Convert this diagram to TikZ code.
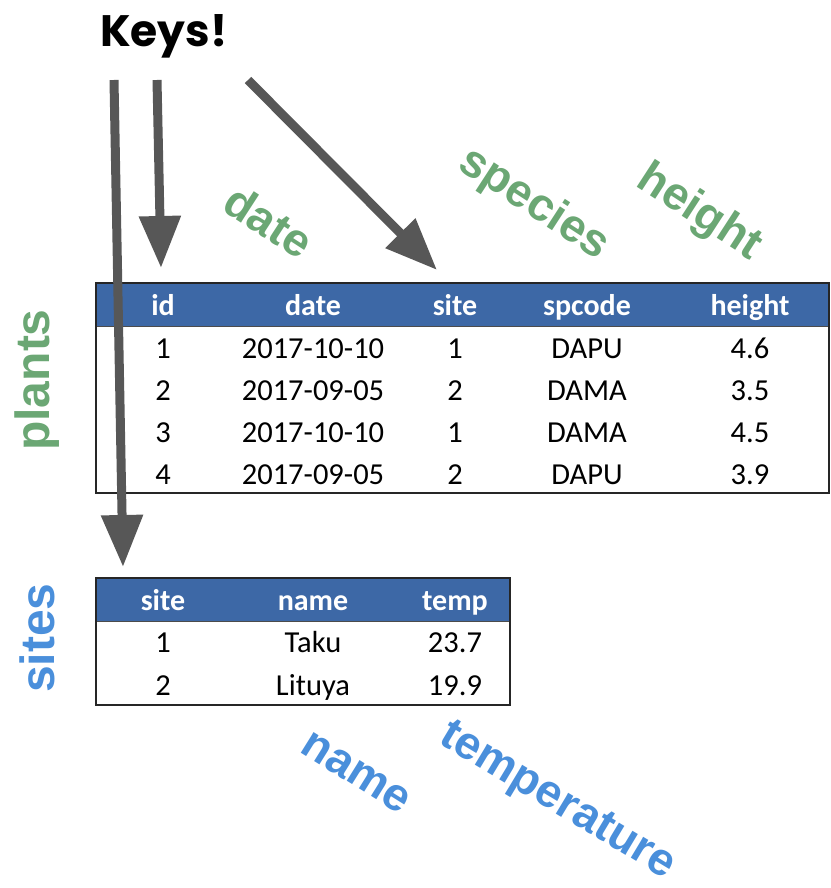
\documentclass[tikz,border=0pt]{standalone}
\usepackage{fontspec}
\setmainfont{Carlito}
\newfontfamily\keysfont{Poppins}
\newfontfamily\labfont{Liberation Sans}
\usetikzlibrary{arrows.meta}
\definecolor{hdrblue}{HTML}{3D68A6}
\definecolor{plantgreen}{HTML}{6BA774}
\definecolor{siteblue}{HTML}{4A8FDB}
\definecolor{arrgray}{HTML}{575757}
\begin{document}
\begin{tikzpicture}[x=1pt,y=-1pt,
  cell/.style={font=\fontsize{30.5}{30}\selectfont, inner sep=0pt, anchor=base},
  hcell/.style={cell, font=\fontsize{30}{30}\selectfont\bfseries, text=white},
  tablebox/.style={draw=black!85, line width=1.3pt},
  hdrbox/.style={fill=hdrblue, draw=black!70, line width=1pt},
  keyarrow/.style={draw=arrgray, line width=9pt, -{Triangle[length=52pt,width=40pt]}},
  lab/.style={font=\fontsize{46}{46}\selectfont\labfont\bfseries, inner sep=0pt},
  tname/.style={lab, font=\fontsize{48}{48}\selectfont\labfont\bfseries, rotate=90}
]
\useasboundingbox (0,0) rectangle (830,888);

% title
\node[anchor=base west, inner sep=0pt, font=\fontsize{44}{44}\selectfont\keysfont\bfseries] (keys) at (100,47) {Keys!};

% rotated labels
\node[lab, text=plantgreen, rotate=-33] (ldate) at (269,221) {date};
\node[lab, text=plantgreen, rotate=-33] (lspecies) at (534,204) {species};
\node[lab, text=plantgreen, rotate=-33] (lheight) at (699,213) {height};
\node[tname, text=plantgreen] (lplants) at (37,380) {plants};
\node[tname, text=siteblue] (lsites) at (37,638) {sites};
\node[lab, text=siteblue, rotate=-32] (lname) at (356,773) {name};
\node[lab, text=siteblue, rotate=-31] (ltemp) at (557,802) {temperature};

% plants table
\path[hdrbox] (96,283) rectangle (829,326);
\draw[tablebox] (96,283) rectangle (829,493);
\foreach \x/\t [count=\i] in {163/id,313/date,455/site,587/spcode,750/height}
  \node[hcell] (ph\i) at (\x,315) {\t};
\foreach \y/\a/\b/\c/\d/\e [count=\r] in {
  358/1/2017-10-10/1/DAPU/4.6,
  400/2/2017-09-05/2/DAMA/3.5,
  442/3/2017-10-10/1/DAMA/4.5,
  484/4/2017-09-05/2/DAPU/3.9}{
  \node[cell] (p\r a) at (163,\y) {\a};
  \node[cell] (p\r b) at (313,\y) {\b};
  \node[cell] (p\r c) at (455,\y) {\c};
  \node[cell] (p\r d) at (587,\y) {\d};
  \node[cell] (p\r e) at (750,\y) {\e};
}

% sites table
\path[hdrbox] (96,578) rectangle (510,621);
\draw[tablebox] (96,578) rectangle (510,705);
\foreach \x/\t [count=\i] in {163/site,313/name,455/temp}
  \node[hcell] (sh\i) at (\x,610) {\t};
\foreach \y/\a/\b/\c [count=\r] in {652/1/Taku/23.7, 695/2/Lituya/19.9}{
  \node[cell] (s\r a) at (163,\y) {\a};
  \node[cell] (s\r b) at (313,\y) {\b};
  \node[cell] (s\r c) at (455,\y) {\c};
}

% arrows
\coordinate (k1) at (114,80);
\coordinate (k2) at (157,80);
\coordinate (k3) at (248,80);
\coordinate (t1) at (123,567);
\coordinate (t2) at (161,268);
\coordinate (t3) at (437,270);
\draw[keyarrow] (k1) -- (t1);
\draw[keyarrow] (k2) -- (t2);
\draw[keyarrow] (k3) -- (t3);
\end{tikzpicture}
\end{document}
